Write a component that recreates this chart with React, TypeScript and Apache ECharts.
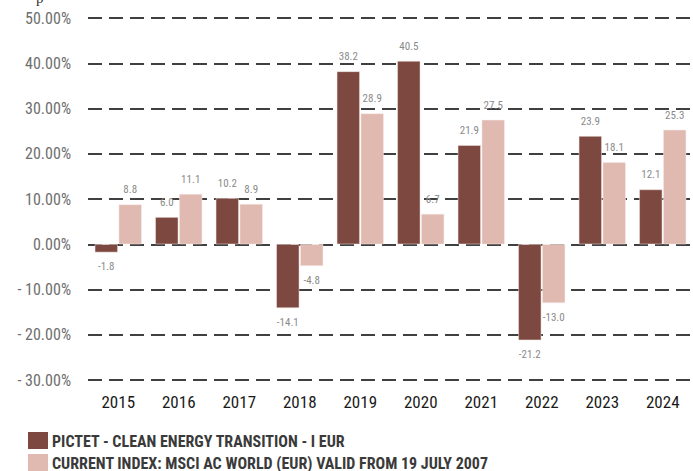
import React, { useEffect, useRef } from "react";
import * as echarts from "echarts";

const years = ["2015", "2016", "2017", "2018", "2019", "2020", "2021", "2022", "2023", "2024"];
const fundValues = [-1.8, 6.0, 10.2, -14.1, 38.2, 40.5, 21.9, -21.2, 23.9, 12.1];
const indexValues = [8.8, 11.1, 8.9, -4.8, 28.9, 6.7, 27.5, -13.0, 18.1, 25.3];
const fundName = "PICTET - CLEAN ENERGY TRANSITION - I EUR";
const indexName = "CURRENT INDEX: MSCI AC WORLD (EUR) VALID FROM 19 JULY 2007";
const fundColor = "#7d4840";
const indexColor = "#e0b9b0";

const FONT = "'Liberation Sans Narrow', 'Roboto Condensed', 'DejaVu Sans Condensed', sans-serif";

const mkData = (vals: number[]) =>
  vals.map((v) => ({
    value: v,
    label: { position: v < 0 ? "bottom" : "top" },
  }));

export default function App() {
  const ref = useRef<HTMLDivElement>(null);
  useEffect(() => {
    if (!ref.current) return;
    const chart = echarts.init(ref.current, undefined, { renderer: "svg" });
    const label = {
      show: true,
      distance: 9,
      color: "#8a8a8a",
      fontSize: 11,
      fontFamily: FONT,
      formatter: (p: any) => p.value.toFixed(1),
    };
    const legendItem = (name: string, color: string, y: number) => ({
      type: "group",
      left: 28,
      top: y,
      children: [
        { type: "rect", shape: { x: 0, y: 0, width: 20, height: 17 }, style: { fill: color } },
        {
          type: "text",
          x: 24,
          y: 9,
          style: {
            text: name,
            fontFamily: FONT,
            fontSize: 16,
            fontWeight: "bold",
            fill: "#3a3a3a",
            verticalAlign: "middle",
          },
        },
      ],
    });
    chart.setOption({
      animation: false,
      textStyle: { fontFamily: FONT },
      grid: { left: 88, right: 0, top: 18, bottom: 91, containLabel: false },
      xAxis: {
        type: "category",
        data: years,
        axisLine: { show: false },
        axisTick: { show: false },
        axisLabel: { color: "#1a1a1a", fontSize: 17, fontFamily: FONT, margin: 13 },
      },
      yAxis: {
        type: "value",
        min: -30,
        max: 50,
        interval: 10,
        axisLine: { show: false },
        axisTick: { show: false },
        axisLabel: {
          color: "#6e6e6e",
          fontSize: 16,
          fontFamily: FONT,
          margin: 17,
          formatter: (v: number) => (v < 0 ? "- " + Math.abs(v).toFixed(2) + "%" : v.toFixed(2) + "%"),
        },
        splitLine: { lineStyle: { color: "#404040", width: 2, type: [14, 7] } },
      },
      series: [
        {
          name: fundName,
          type: "bar",
          data: mkData(fundValues),
          barWidth: 23,
          barGap: "4%",
          itemStyle: { color: fundColor, borderColor: "#f3e6e2", borderWidth: 0.5 },
          label,
        },
        {
          name: indexName,
          type: "bar",
          data: mkData(indexValues),
          barWidth: 23,
          itemStyle: { color: indexColor, borderColor: "#f7ecea", borderWidth: 0.5 },
          label,
        },
      ],
      graphic: [
        legendItem(fundName, fundColor, 432),
        legendItem(indexName, indexColor, 454),
        { type: "text", x: 36, y: -10, style: { text: "p", fontFamily: "serif", fontSize: 15, fill: "#333" } },
      ],
    });
    return () => chart.dispose();
  }, []);
  return <div ref={ref} style={{ width: 693, height: 471, position: "absolute", left: 0, top: 0 }} />;
}
